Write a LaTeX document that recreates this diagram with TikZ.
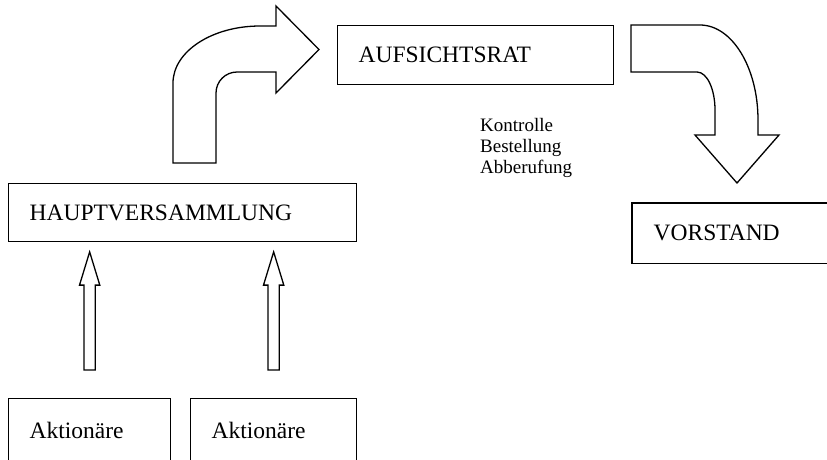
\documentclass[tikz,border=0pt]{standalone}
\usepackage{fontspec}
\setmainfont{Liberation Serif}
\usetikzlibrary{positioning, calc, shapes.arrows}

\begin{document}
\begin{tikzpicture}[
  x=1pt, y=-1pt,
  box/.style = {rectangle, draw, line width=1.3pt, anchor=north west,
                inner xsep=21pt, inner ysep=0pt, align=left,
                font=\fontsize{23.5}{28}\selectfont},
  uparrow/.style = {single arrow, draw, line width=1.3pt, rotate=90,
                    minimum height=118pt, inner sep=5pt,
                    single arrow head extend=4.5pt, single arrow tip angle=34},
  bigarrow/.style = {draw, line width=1.3pt, fill=white},
  note/.style = {anchor=north west, align=left, inner sep=0pt,
                 font=\fontsize{19}{21}\selectfont},
]
\useasboundingbox (0,0) rectangle (827,459);
\clip (0,0) rectangle (827,459);

% Boxes
\node[box, text width=306pt, minimum height=58pt] (hv)    at (8,183)   {HAUPTVERSAMMLUNG};
\node[box, text width=120pt, minimum height=64pt] (akt1)  at (8,398)   {Aktionäre};
\node[box, text width=124pt, minimum height=64pt] (akt2)  at (190,398) {Aktionäre};
\node[box, text width=234pt, minimum height=59pt] (aufs)  at (337,25)  {AUFSICHTSRAT};
\node[box, draw=none, text width=250pt, minimum height=59pt] (vorst) at (632,203) {VORSTAND};
\draw[line width=1.3pt] (vorst.north east) -| (vorst.south west) -- (vorst.south east);

% Note
\node[note] (tasks) at (480,118) {Kontrolle\\Bestellung\\Abberufung};

% Small arrows
\node[uparrow] (up1) at ($(akt1.north)!0.5!(hv.south -| akt1.north)$) {};
\node[uparrow] (up2) at ($(akt2.north)!0.5!(hv.south -| akt2.north)$) {};

% Bent arrows
\draw[bigarrow] (173,163) -- (173,83) .. controls (173,51.5) and (212,26) .. (260,26)
  -- (276,26) -- (276,6) -- (319,49.5) -- (276,93) -- (276,72) -- (237,72)
  .. controls (225.4,72) and (216,81.4) .. (216,93) -- (216,163) -- cycle;
\draw[bigarrow] (631,25) -- (700,25) .. controls (732,25) and (758,67.5) .. (758,120)
  -- (758,135) -- (779,135) -- (737,183) -- (695,135) -- (715,135) -- (715,110)
  .. controls (715,89) and (707,72) .. (697,72) -- (631,72) -- cycle;

\end{tikzpicture}
\end{document}
